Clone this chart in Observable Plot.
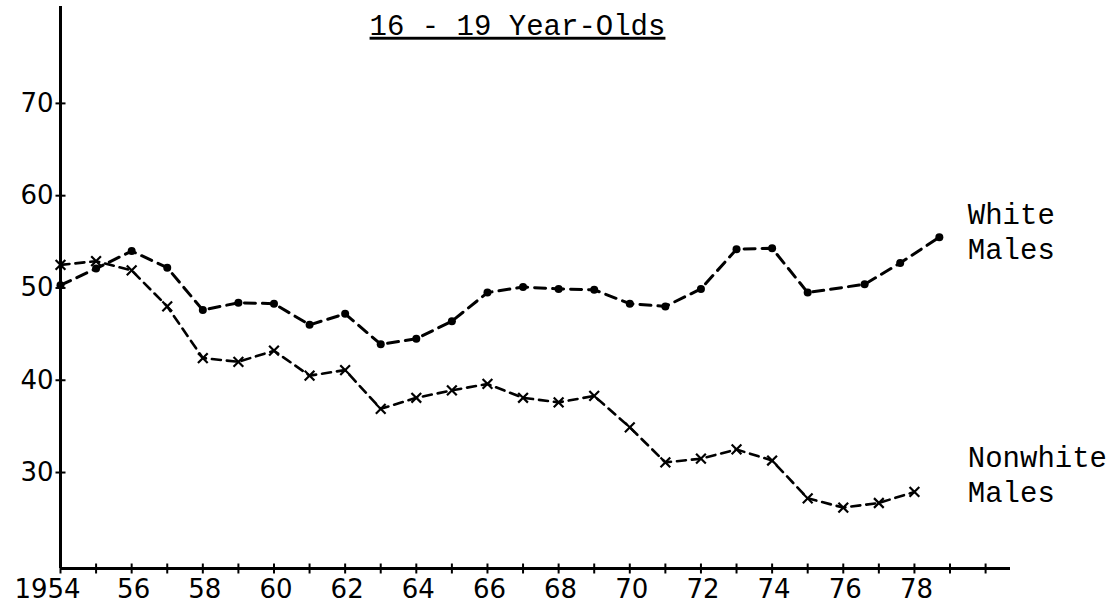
<!DOCTYPE html>
<html>
<head>
<meta charset="utf-8">
<script src="https://cdn.jsdelivr.net/npm/d3@7"></script>
<script src="https://cdn.jsdelivr.net/npm/@observablehq/plot@0.6"></script>
<style>
  html, body { margin: 0; padding: 0; background: #ffffff; }
  #chart svg { display: block; }
</style>
</head>
<body>
<div id="chart"></div>
<script>
// ---- data ----
const title = "16 - 19 Year-Olds";

const whiteYears = [1954, 1955, 1956, 1957, 1958, 1959, 1960, 1961, 1962, 1963, 1964, 1965, 1966,
  1967, 1968, 1969, 1970, 1971, 1972, 1973, 1974, 1975, 1976.6, 1977.6, 1978.7];
const whiteRates = [50.3, 52.1, 54.0, 52.2, 47.6, 48.4, 48.3, 46.0, 47.2, 43.9, 44.5, 46.4, 49.5,
  50.1, 49.9, 49.8, 48.3, 48.0, 49.9, 54.2, 54.3, 49.5, 50.4, 52.7, 55.5];

const nonwhiteYears = [1954, 1955, 1956, 1957, 1958, 1959, 1960, 1961, 1962, 1963, 1964, 1965, 1966,
  1967, 1968, 1969, 1970, 1971, 1972, 1973, 1974, 1975, 1976, 1977, 1978];
const nonwhiteRates = [52.5, 52.9, 51.9, 48.0, 42.4, 42.0, 43.2, 40.5, 41.1, 36.9, 38.1, 38.9, 39.6,
  38.1, 37.6, 38.3, 34.9, 31.1, 31.5, 32.5, 31.3, 27.2, 26.2, 26.7, 27.9];

const xTickYears = [1954, 1955, 1956, 1957, 1958, 1959, 1960, 1961, 1962, 1963, 1964, 1965, 1966,
  1967, 1968, 1969, 1970, 1971, 1972, 1973, 1974, 1975, 1976, 1977, 1978, 1979, 1980];
const xLabelYears = [1956, 1958, 1960, 1962, 1964, 1966, 1968, 1970, 1972, 1974, 1976, 1978];
const xLabelText = ["56", "58", "60", "62", "64", "66", "68", "70", "72", "74", "76", "78"];
const firstLabelYear = [1954];
const firstLabelText = ["1954"];
const yTicks = [30, 40, 50, 60, 70];

const seriesLabels = ["White\nMales", "Nonwhite\nMales"];
const seriesLabelY = [56.2, 29.9];
const seriesLabelX = 1979.5;

const xDomain = [1954, 1980.7];
const yDomain = [19.6, 80.5];

// ---- build tables ----
const white = whiteYears.map((yr, i) => ({year: yr, rate: whiteRates[i]}));
const nonwhite = nonwhiteYears.map((yr, i) => ({year: yr, rate: nonwhiteRates[i]}));
const labelRows = seriesLabels.map((t, i) => ({text: t, y: seriesLabelY[i]}));

// custom tick symbols
const vline = {draw(ctx, size) { const r = Math.sqrt(size / Math.PI); ctx.moveTo(0, -r); ctx.lineTo(0, r); }};
const hline = {draw(ctx, size) { const r = Math.sqrt(size / Math.PI); ctx.moveTo(-r, 0); ctx.lineTo(r, 0); }};

const mono = "'Liberation Mono', 'DejaVu Sans Mono', monospace";
const sans = "'DejaVu Sans', sans-serif";

const chart = Plot.plot({
  width: 1114,
  height: 613,
  marginLeft: 60,
  marginRight: 104,
  marginTop: 6,
  marginBottom: 45,
  style: {background: "#ffffff", color: "#000"},
  x: {domain: xDomain, axis: null},
  y: {domain: yDomain, axis: null},
  marks: [
    // axes lines
    Plot.ruleX([xDomain[0]], {stroke: "#000", strokeWidth: 3}),
    Plot.ruleY([yDomain[0]], {stroke: "#000", strokeWidth: 3}),
    // tick marks
    Plot.dot(xTickYears, {x: d => d, y: () => yDomain[0], symbol: vline, r: 5, stroke: "#000", strokeWidth: 2}),
    Plot.dot(yTicks, {x: () => xDomain[0], y: d => d, symbol: hline, r: 5, stroke: "#000", strokeWidth: 2}),
    // tick labels
    Plot.text(xLabelYears, {x: d => d, y: () => yDomain[0], text: (d, i) => xLabelText[i], dy: 21, dx: 2,
      lineAnchor: "middle", fontSize: 26, fontFamily: sans, fill: "#000"}),
    Plot.text(firstLabelYear, {x: d => d, y: () => yDomain[0], text: (d, i) => firstLabelText[i], dy: 21, dx: -13,
      lineAnchor: "middle", fontSize: 26, fontFamily: sans, fill: "#000"}),
    Plot.text(yTicks, {x: () => xDomain[0], y: d => d, text: d => String(d), dx: -7, textAnchor: "end",
      lineAnchor: "middle", fontSize: 26, fontFamily: sans, fill: "#000"}),
    // series
    Plot.line(white, {x: "year", y: "rate", stroke: "#000", strokeWidth: 3, strokeDasharray: "11,7"}),
    Plot.dot(white, {x: "year", y: "rate", r: 4, fill: "#000"}),
    Plot.line(nonwhite, {x: "year", y: "rate", stroke: "#000", strokeWidth: 2.6, strokeDasharray: "9,6"}),
    Plot.dot(nonwhite, {x: "year", y: "rate", symbol: "times", r: 4.5, stroke: "#000", strokeWidth: 2.2}),
    // series labels
    Plot.text(labelRows, {x: () => seriesLabelX, y: "y", text: "text", textAnchor: "start", lineAnchor: "middle",
      lineHeight: 1.2, fontSize: 29, fontFamily: mono, fill: "#000"}),
    // title
    Plot.text([title], {frameAnchor: "top", text: d => d, dx: -18, dy: 19, lineAnchor: "middle",
      fontSize: 29, fontFamily: mono, fill: "#000"})
  ]
});

d3.select(chart).selectAll("text")
  .filter(function () { return this.textContent === title; })
  .attr("text-decoration", "underline")
  .style("text-decoration", "underline")
  .style("text-decoration-thickness", "2.5px")
  .style("text-underline-offset", "5px");

document.getElementById("chart").appendChild(chart);
</script>
</body>
</html>
